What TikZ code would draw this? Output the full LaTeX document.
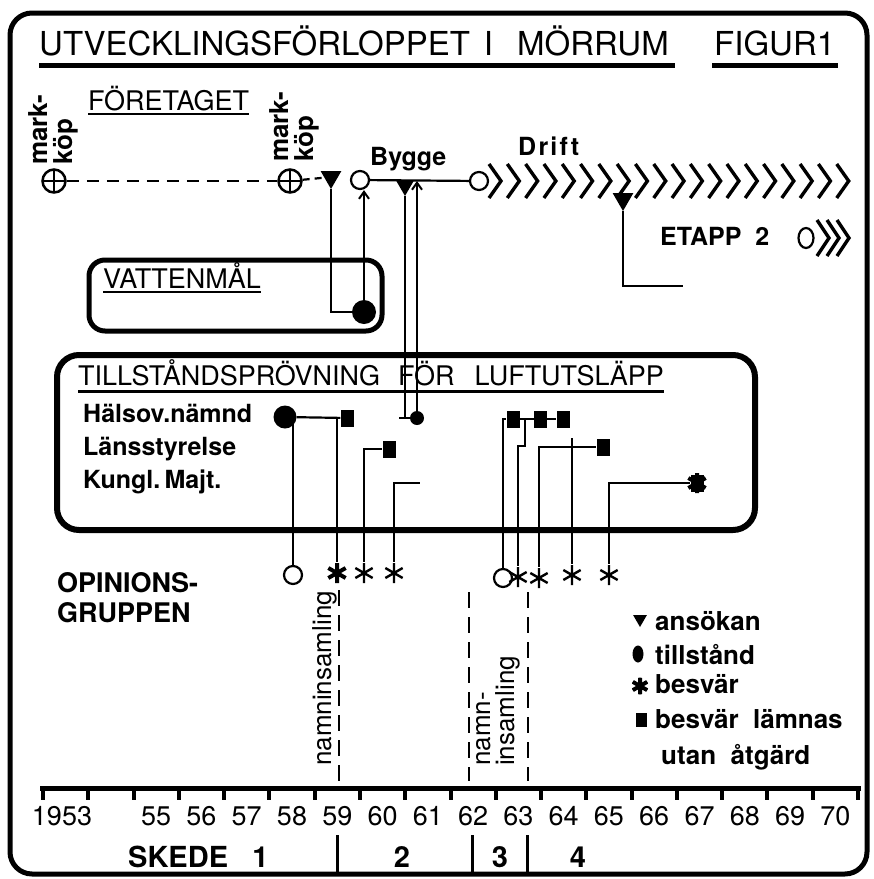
\documentclass[tikz,border=0pt]{standalone}
\usepackage{fontspec}
\setmainfont{TeX Gyre Heros}
\usetikzlibrary{arrows.meta,positioning,shapes.geometric}

% asterisk arms for the besvär markers
\newcommand\stjarna[2]{%
    \draw[line width=#1]
      ([yshift=#2]path picture bounding box.center) --
      ([yshift=-#2]path picture bounding box.center)
      ([shift={(30:#2)}]path picture bounding box.center) --
      ([shift={(210:#2)}]path picture bounding box.center)
      ([shift={(150:#2)}]path picture bounding box.center) --
      ([shift={(330:#2)}]path picture bounding box.center);}

\begin{document}
\begin{tikzpicture}[
    x=1pt, y=-1pt,
    >={Straight Barb[length=7pt,width=10pt,line width=2pt]},
    lank/.style={
        line width=2.2pt
    },
    ram/.style={
        line width=5pt,
        rounded corners=22pt
    },
    streck/.style={
        line width=2.2pt,
        dash pattern=on 16pt off 9pt
    },
    understr/.style={
        line width=2.5pt
    },
    pil/.style={
        line width=3.4pt,
        line join=miter
    },
    ansokan/.style={
        fill,
        regular polygon,
        regular polygon sides=3,
        shape border rotate=180,
        inner sep=0pt,
        minimum size=24pt
    },
    tillstand/.style={
        fill,
        circle,
        inner sep=0pt,
        minimum size=24pt
    },
    oppen/.style={
        draw,
        circle,
        line width=2.2pt,
        inner sep=0pt,
        minimum size=18pt
    },
    avvisat/.style={
        fill,
        rectangle,
        inner sep=0pt,
        minimum width=13pt,
        minimum height=17pt
    },
    besvar/.style={
        circle,
        inner sep=0pt,
        minimum size=22pt,
        path picture={\stjarna{2.4pt}{10pt}}
    },
    besvarfet/.style={
        circle,
        inner sep=0pt,
        minimum size=22pt,
        path picture={\stjarna{4pt}{10pt}
            \fill (path picture bounding box.center) circle (4pt);}
    },
    markkop/.style={
        draw,
        circle,
        line width=2.5pt,
        inner sep=0pt,
        minimum size=23pt,
        path picture={\draw[line width=2.5pt]
            (path picture bounding box.north) -- (path picture bounding box.south)
            (path picture bounding box.west) -- (path picture bounding box.east);}
    },
    rubrik/.style={
        inner sep=0pt,
        anchor=base west,
        font=\fontsize{33}{36}\selectfont
    },
    stor/.style={
        inner sep=0pt,
        anchor=base west,
        font=\fontsize{27}{30}\selectfont
    },
    tekst/.style={
        inner sep=0pt,
        anchor=base west,
        font=\bfseries\fontsize{25}{28}\selectfont
    },
    legend/.style={
        inner sep=0pt,
        anchor=base west,
        font=\bfseries\fontsize{26}{30}\selectfont
    },
    ar/.style={
        inner sep=0pt,
        anchor=base,
        font=\fontsize{27}{30}\selectfont
    },
    skede/.style={
        inner sep=0pt,
        anchor=base,
        font=\bfseries\fontsize{29}{32}\selectfont
    },
    lodrat/.style={
        rotate=90,
        anchor=west,
        align=left,
        inner sep=0pt
    }
]
\useasboundingbox (0,0) rectangle (874,879);

% ============================================================
% Frame and title
% ============================================================
\draw[ram] (10,13) rectangle (867,874);

\node[rubrik] (titel) at (39,55)
    {UTVECKLINGSFÖRLOPPET\hspace{14pt}I\hspace{24pt}MÖRRUM};
\node[rubrik] (figur) at (714,55) {FIGUR1};

\draw[line width=5pt] ([yshift=-10pt]titel.base west) -- ([yshift=-10pt,xshift=6pt]titel.base east);
\draw[line width=5pt] ([yshift=-10pt,xshift=-2pt]figur.base west) -- ([yshift=-10pt,xshift=3pt]figur.base east);

% ============================================================
% Företaget
% ============================================================
\node[stor] (foretag) at (88,110) {FÖRETAGET};
\draw[understr] ([yshift=-4pt]foretag.base west) -- ([yshift=-4pt]foretag.base east);

\node[markkop] (mk-a) at (54,181) {};
\node[markkop] (mk-b) at (290,181) {};
\node[lodrat, font=\bfseries\fontsize{26}{25}\selectfont] (mk-a-txt) at (53,165) {mark-\\köp};
\node[lodrat, font=\bfseries\fontsize{26}{25}\selectfont] (mk-b-txt) at (294,162) {mark-\\köp};

\node[ansokan] (an-a) at (331,177) {};
\node[oppen] (by-start) at (360,180) {};
\node[oppen] (dr-start) at (479,181) {};
\node[ansokan, minimum size=20pt] (an-b) at (405,186) {};

\node[tekst] (bygge) at (370,165) {Bygge};
\node[tekst, font=\bfseries\fontsize{25}{28}\selectfont\addfontfeature{LetterSpace=9}] (drift) at (518,155) {Drift};

\draw[lank, dash pattern=on 12pt off 8pt] (mk-a) -- (mk-b);
\draw[lank, dash pattern=on 7pt off 5pt] (mk-b) -- (an-a);
\draw[lank] (by-start) -- (dr-start);

% drift
\foreach \i in {0,...,19}
    \draw[pil] ({489+18.3*\i},164) -- ++(12,17) -- ++(-12,17);

\node[ansokan] (an-c) at (623,199) {};
\coordinate (an-c-slut) at (683,286);
\draw[lank] (an-c.south) |- (an-c-slut);

% etapp 2
\node[tekst, font=\bfseries\fontsize{25}{28}\selectfont] (etapp) at (660,245) {ETAPP\ \ 2};
\node[oppen, ellipse, minimum width=15pt, minimum height=20pt] (et-start) at (806,238) {};
\foreach \i in {0,1,2}
    \draw[pil] ({817+10*\i},220) -- ++(12,18) -- ++(-12,18);

% ============================================================
% Vattenmål
% ============================================================
\draw[ram, rounded corners=16pt] (89,260) rectangle (382,331);
\node[stor] (vatten) at (103,288) {VATTENMÅL};
\draw[understr] ([yshift=-4pt]vatten.base west) -- ([yshift=-4pt]vatten.base east);

\node[tillstand] (ti-a) at (364,312) {};
\draw[lank] (an-a.south) |- (ti-a);
\draw[lank, ->] (ti-a) -- (ti-a |- by-start.south);

% ============================================================
% Tillståndsprövning
% ============================================================
\draw[ram, line width=6pt] (57,355) rectangle (755,530);
\node[stor] (tp-titel) at (78,385)
    {TILLSTÅNDSPRÖVNING\hspace{18pt}FÖR\hspace{20pt}LUFTUTSLÄPP};
\draw[understr, line width=3pt] ([yshift=-6pt]tp-titel.base west) -- ([yshift=-6pt]tp-titel.base east);

\node[tekst] (rad-hn) at (83,422) {Hälsov.nämnd};
\node[tekst] (rad-ls) at (83,455) {Länsstyrelse};
\node[tekst] (rad-km) at (83,488) {Kungl.\,Majt.};

% ansökan och tillstånd från bygget
\node[tillstand, minimum size=14pt] (hn-ti-b) at (417,418) {};
\coordinate (hn-stub) at (399,418);
\draw[lank] (an-b.south) -- (an-b.south |- hn-stub);
\draw[lank] (hn-stub) -- (hn-ti-b);
\draw[lank, ->] (hn-ti-b) -- (hn-ti-b |- dr-start);

% beslut
\node[tillstand, minimum size=23pt] (hn-ti) at (285,417) {};
\node[avvisat] (hn-av-a) at (347,418) {};
\node[avvisat] (ls-av-a) at (389,449) {};
\node[avvisat] (hn-av-b) at (513,419) {};
\node[avvisat] (hn-av-c) at (540,419) {};
\node[avvisat] (hn-av-d) at (563,419) {};
\node[avvisat] (ls-av-b) at (603,447) {};
\node[avvisat] (km-av) at (697,483) {};
\node[besvarfet] (km-bs) at (697,483) {};

% ============================================================
% Opinionsgruppen
% ============================================================
\node[inner sep=0pt, anchor=north west, align=left,
      font=\bfseries\fontsize{27}{30}\selectfont] (opinion) at (57,572)
    {OPINIONS-\\GRUPPEN};

\node[oppen] (op-a) at (293,575) {};
\node[besvarfet] (op-b) at (337,573) {};
\node[besvar] (op-c) at (364,573) {};
\node[besvar] (op-d) at (394,573) {};
\node[oppen] (op-e) at (503,578) {};
\node[besvar] (op-f) at (518,577) {};
\node[besvar] (op-g) at (539,578) {};
\node[besvar] (op-h) at (572,575) {};
\node[besvar] (op-i) at (609,575) {};

\draw[lank] (hn-ti) -- (hn-av-a);
\draw[lank] (op-a) -- (op-a |- hn-ti);
\draw[lank] (op-b) -- (op-b |- hn-av-a);
\draw[lank] (op-c) |- (ls-av-a);
\coordinate (km-slut) at (420,483);
\draw[lank] (op-d) |- (km-slut);

\draw[lank] (op-e) |- (hn-av-b);
\draw[lank] (hn-av-b) -- (hn-av-d);
\coordinate (hn-knut) at (525,446);
\draw[lank] (op-f) |- (hn-knut) -- (hn-knut |- hn-av-c);
\draw[lank] (op-g) |- (ls-av-b);
\coordinate (ls-tapp) at (572,438);
\draw[lank] (op-h) -- (op-h |- ls-tapp);
\draw[lank] (op-i) |- (km-av);

% namninsamlingar
\coordinate (nm-a-top) at (339,590);
\coordinate (nm-a-bot) at (339,781);
\coordinate (nm-b-top) at (469,592);
\coordinate (nm-b-bot) at (469,781);
\coordinate (nm-c-top) at (528,592);
\coordinate (nm-c-bot) at (528,781);
\draw[streck] (nm-a-top) -- (nm-a-bot);
\draw[streck] (nm-b-top) -- (nm-b-bot);
\draw[streck] (nm-c-top) -- (nm-c-bot);

\node[lodrat, font=\fontsize{26}{28}\selectfont] (nm-a) at (325,766) {namninsamling};
\node[lodrat, font=\fontsize{26}{24}\selectfont] (nm-b) at (498,766) {namn-\\insamling};

% ============================================================
% Legend
% ============================================================
\node[ansokan, minimum size=16pt] (lg-an) at (640,619) {};
\node[legend] (lg-an-txt) at (655,630) {ansökan};
\node[tillstand, ellipse, minimum width=11pt, minimum height=17pt] (lg-ti) at (638,654) {};
\node[legend] (lg-ti-txt) at (655,664) {tillstånd};
\node[besvarfet, minimum size=17pt] (lg-bs) at (640,686) {};
\node[legend] (lg-bs-txt) at (655,693) {besvär};
\node[avvisat, minimum width=11pt, minimum height=14pt] (lg-av) at (641,720) {};
\node[legend] (lg-av-txt) at (655,728) {besvär\ \ lämnas};
\node[legend] (lg-av-txt2) at (661,764) {utan\ \ åtgärd};

% ============================================================
% Time axis
% ============================================================
\coordinate (ax-start) at (40,788);
\coordinate (ax-slut) at (861,788);
\draw[line width=5pt] (ax-start) -- (ax-slut);
\foreach \k in {0,...,18}
    \draw[line width=4pt] ({43+45.28*\k},788) -- ++(0,12);

\node[ar] (ar-1953) at (62,825) {1953};
\foreach \yr in {55,...,70}
    \node[ar] (ar-\yr) at ({65.6+45.28*(\yr-53)},825) {\yr};

\node[skede, anchor=base west] (sk-1) at (128,867) {SKEDE\ \ \ 1};
\node[skede] (sk-2) at (402,867) {2};
\node[skede] (sk-3) at (500,867) {3};
\node[skede] (sk-4) at (578,867) {4};
\foreach \x in {337,472,527}
    \draw[line width=3pt] (\x,835) -- (\x,874);

\end{tikzpicture}
\end{document}
